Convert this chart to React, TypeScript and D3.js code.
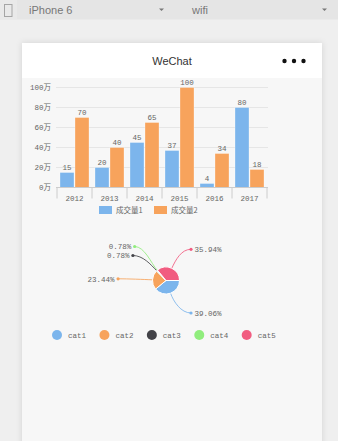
import * as d3 from "d3";

/* ------------------------------------------------------------------ */
/*  Data                                                               */
/* ------------------------------------------------------------------ */

const YEARS = ["2012", "2013", "2014", "2015", "2016", "2017"];
const VOLUME_1 = [15, 20, 45, 37, 4, 80];
const VOLUME_2 = [70, 40, 65, 100, 34, 18];
const SERIES_NAMES = ["成交量1", "成交量2"];
const Y_TICKS = [0, 20, 40, 60, 80, 100];

const PIE_CATS = ["cat1", "cat2", "cat3", "cat4", "cat5"];
const PIE_VALUES = [50, 30, 1, 1, 46];

/* ------------------------------------------------------------------ */
/*  Theme tokens                                                       */
/* ------------------------------------------------------------------ */

const W = 338;
const H = 441;
const PAGE_BG = "#efefef";
const BAR_BG = "#e5e5e5";
const FRAME_BG = "#f7f7f7";
const GRID = "#e6e6e6";
const AXIS = "#cccccc";
const LABEL = "#666666";
const SERIES_COLORS = ["#7cb5ec", "#f7a35c"];
const PIE_COLORS = ["#7cb5ec", "#f7a35c", "#434348", "#90ed7d", "#f15c80"];
const MONO = "'Liberation Mono', 'Noto Sans CJK SC', monospace";
const CJK = "'Noto Sans CJK SC', sans-serif";
const SANS = "'Liberation Sans', Arial, sans-serif";

/* ------------------------------------------------------------------ */
/*  Component                                                          */
/* ------------------------------------------------------------------ */

export default function App() {
  /* Bar chart scales */
  const x = d3.scaleBand<string>().domain(YEARS).range([57, 267]);
  const xInner = d3
    .scaleBand<number>()
    .domain([0, 1])
    .range([0, x.bandwidth()])
    .paddingInner(1 / 15)
    .paddingOuter(0.2);
  const y = d3.scaleLinear().domain([0, 100]).range([187.5, 87.5]);
  const series = [VOLUME_1, VOLUME_2];

  /* Pie */
  const cx = 166;
  const cy = 280.5;
  const r = 13.5;
  const total = d3.sum(PIE_VALUES);
  const arcs = d3
    .pie<number>()
    .sort(null)
    .startAngle(Math.PI / 2)
    .endAngle(Math.PI / 2 + Math.PI * 2)(PIE_VALUES);
  const arcGen = d3.arc<d3.PieArcDatum<number>>().innerRadius(0).outerRadius(r);

  /* Label layout: elliptical end points, then push apart per side */
  const labels = arcs.map((a, i) => {
    const mid = (a.startAngle + a.endAngle) / 2;
    const sx = Math.sin(mid);
    const sy = -Math.cos(mid);
    const side = sx >= 0 ? 1 : -1;
    const dx = side * Math.max(Math.abs(48 * sx), 25);
    return {
      i,
      side,
      ax: cx + r * sx,
      ay: cy + r * sy,
      dirx: sx,
      diry: sy,
      ex: cx + dx,
      ey: cy + 34.5 * sy,
    };
  });
  [1, -1].forEach((side) => {
    const group = labels.filter((l) => l.side === side).sort((a, b) => b.ey - a.ey);
    for (let k = 1; k < group.length; k++) {
      if (group[k - 1].ey - group[k].ey < 9) group[k].ey = group[k - 1].ey - 9;
    }
  });

  const legendX = d3.scalePoint<string>().domain(PIE_CATS).range([57, 246.7]);

  return (
    <div style={{ position: "absolute", left: 0, top: 0, width: W, height: H }}>
      <svg width={W} height={H} style={{ display: "block" }}>
        <defs>
          <filter id="shadow" x="-10%" y="-10%" width="120%" height="120%">
            <feDropShadow dx="0" dy="0" stdDeviation="3" floodColor="#000" floodOpacity="0.12" />
          </filter>
        </defs>

        {/* Page & device toolbar */}
        <rect x={0} y={0} width={W} height={H} fill={PAGE_BG} />
        <rect x={0} y={0} width={W} height={19.5} fill={BAR_BG} />
        <rect x={0} y={0} width={17} height={19.5} fill="#e9e9e9" />
        <rect x={4.5} y={4.5} width={7.5} height={12} fill="none" stroke="#a5a5a5" strokeWidth={1} />
        <text x={29} y={13.5} fontFamily={SANS} fontSize={11} fill="#777">
          iPhone 6
        </text>
        <path d="M159,8.5 L164,8.5 L161.5,11 Z" fill="#777" />
        <text x={192} y={13.5} fontFamily={SANS} fontSize={11} fill="#777">
          wifi
        </text>
        <path d="M322,8.5 L327,8.5 L324.5,11 Z" fill="#777" />

        {/* Phone frame */}
        <rect x={22} y={43} width={300} height={420} fill={FRAME_BG} filter="url(#shadow)" />
        <rect x={22} y={43} width={300} height={35} fill="#ffffff" />
        <text x={172} y={65} textAnchor="middle" fontFamily={SANS} fontSize={11} fill="#333">
          WeChat
        </text>
        {[284.5, 294, 303.5].map((dx) => (
          <circle key={dx} cx={dx} cy={61} r={2.2} fill="#111" />
        ))}

        {/* Grid + y labels */}
        {Y_TICKS.map((t) => (
          <g key={t}>
            {t > 0 && (
              <line x1={56} x2={268} y1={y(t)} y2={y(t)} stroke={GRID} strokeWidth={1} />
            )}
            <text
              x={51}
              y={y(t) + 2.5}
              textAnchor="end"
              fontFamily={MONO}
              fontSize={7.5}
              fill={LABEL}
            >
              {`${t}万`}
            </text>
          </g>
        ))}

        {/* Bars */}
        {series.map((vals, s) =>
          vals.map((v, i) => {
            const bx = (x(YEARS[i]) ?? 0) + (xInner(s) ?? 0);
            return (
              <g key={`${s}-${i}`}>
                <rect
                  x={bx}
                  y={y(v)}
                  width={xInner.bandwidth()}
                  height={y(0) - y(v)}
                  fill={SERIES_COLORS[s]}
                  stroke="#fff"
                  strokeOpacity={0.5}
                  strokeWidth={0.6}
                />
                <text
                  x={bx + xInner.bandwidth() / 2}
                  y={y(v) - 2.5}
                  textAnchor="middle"
                  fontFamily={MONO}
                  fontSize={7.5}
                  fill={LABEL}
                >
                  {v}
                </text>
              </g>
            );
          }),
        )}

        {/* X axis */}
        <line x1={56} x2={268} y1={y(0)} y2={y(0)} stroke={AXIS} />
        {[...YEARS.map((yr) => x(yr) ?? 0), 267].map((tx) => (
          <line key={tx} x1={tx} x2={tx} y1={y(0)} y2={y(0) + 11} stroke={AXIS} />
        ))}
        {YEARS.map((yr) => (
          <text
            key={yr}
            x={(x(yr) ?? 0) + x.bandwidth() / 2}
            y={200.5}
            textAnchor="middle"
            fontFamily={MONO}
            fontSize={7.5}
            fill={LABEL}
          >
            {yr}
          </text>
        ))}

        {/* Bar legend */}
        {SERIES_NAMES.map((name, s) => (
          <g key={name} transform={`translate(${99 + s * 55},0)`}>
            <rect x={0} y={206} width={13} height={8} fill={SERIES_COLORS[s]} />
            <text x={17} y={213} fontFamily={CJK} fontSize={7.5} fill={LABEL}>
              {name}
            </text>
          </g>
        ))}

        {/* Pie leader lines + labels */}
        {labels.map((l) => {
          const c1x = l.ax + l.dirx * 9;
          const c1y = l.ay + l.diry * 9;
          const c2x = l.ex - l.side * 10;
          const c2y = l.ey;
          const pct = `${((PIE_VALUES[l.i] / total) * 100).toFixed(2)}%`;
          return (
            <g key={l.i}>
              <path
                d={`M${l.ax},${l.ay} C${c1x},${c1y} ${c2x},${c2y} ${l.ex},${l.ey}`}
                fill="none"
                stroke={PIE_COLORS[l.i]}
                strokeOpacity={0.85}
                strokeWidth={1}
              />
              <circle cx={l.ex} cy={l.ey} r={1.6} fill={PIE_COLORS[l.i]} />
              <text
                x={l.ex + l.side * 3.5}
                y={l.ey + 2.7}
                textAnchor={l.side > 0 ? "start" : "end"}
                fontFamily={MONO}
                fontSize={7.5}
                fill={LABEL}
              >
                {pct}
              </text>
            </g>
          );
        })}

        {/* Pie slices */}
        <g transform={`translate(${cx},${cy})`}>
          {arcs.map((a, i) => (
            <path key={i} d={arcGen(a) ?? ""} fill={PIE_COLORS[i]} stroke="#fff" strokeWidth={1} />
          ))}
        </g>

        {/* Pie legend */}
        {PIE_CATS.map((c, i) => (
          <g key={c} transform={`translate(${legendX(c) ?? 0},335)`}>
            <circle cx={0} cy={0} r={5} fill={PIE_COLORS[i]} />
            <text x={11} y={2.7} fontFamily={MONO} fontSize={7.5} fill={LABEL}>
              {c}
            </text>
          </g>
        ))}
      </svg>
    </div>
  );
}
